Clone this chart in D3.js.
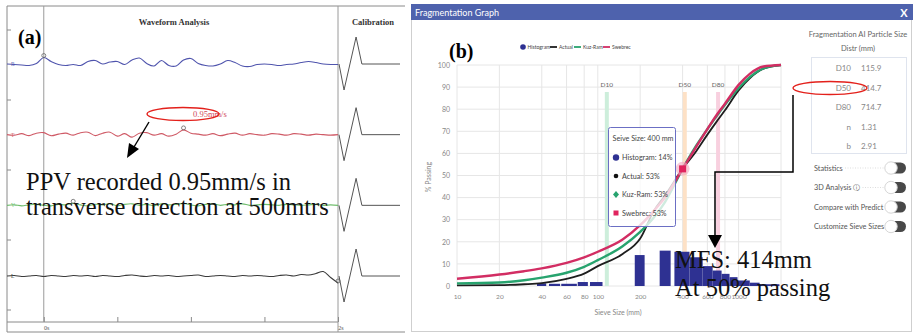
<!DOCTYPE html>
<html>
<head>
<meta charset="utf-8">
<script src="https://cdn.jsdelivr.net/npm/d3@7"></script>
<style>
  body { margin: 0; background: #fff; }
  svg { display: block; }
</style>
</head>
<body>
<div id="chart"></div>
<script>
// ---------- panel (a): waveform traces, mm/s, one sample every 0.05 s from -0.25 s
const channels = ["R", "T", "V", "L"];
const radial = [0, -0.1, -0.2, -0.3, 0.1, 1.3, 0.5, -0.1, -0.3, -0.1, -0.3, 0.5, 0.7, 0, 0.4, 0.5, -0.1, 0.8, 1.2, 0.1, -0.4, 0.7, -0.3, -0.4, 0.8, 1.1, 0.1, -0.3, -0.4, 0, 0.7, 0.3, -0.4, -0.5, -0.1, 0, -0.1, -0.3, -0.1, 0, 0.3, 0.5, 0.3, 0, -0.1, -0.1];
const transverse = [0, -0.1, 0.2, -0.2, 0.3, 0.4, -0.2, 0.1, 0.3, -0.1, 0.4, 0.5, -0.2, 0.3, 0.5, -0.3, 0.2, -0.5, 0.3, 0.4, -0.1, 0.2, -0.3, 0.1, 0.95, 0.3, 0.1, -0.1, 0.2, -0.2, 0.1, 0.3, -0.1, 0.2, 0, -0.1, 0.2, 0.1, -0.1, 0.2, 0.1, -0.1, 0.1, 0, -0.1, 0];
const vertical = [0, 0.1, -0.1, 0.1, 0.2, 0, -0.1, 0.2, 0.1, 0.4, 0.1, -0.1, 0.2, 0.1, 0.3, -0.1, 0.2, 0.3, 0, 0.2, -0.1, 0.3, 0.1, 0.2, 0.4, 0.1, -0.1, 0.2, 0.3, 0, 0.2, 0.1, 0.3, 0, 0.1, 0.2, 0.1, 0, 0.2, 0.1, 0, 0.1, 0.2, 0, 0.1, 0];
const longitudinal = [0, 0.1, -0.1, 0, 0.1, -0.1, 0.1, 0, -0.1, 0.1, 0, 0.1, -0.1, 0.1, 0, -0.1, 0.1, 0.2, 0, -0.1, 0.1, 0, 0.1, -0.1, 0, 0.1, 0.2, -0.1, 0, 0.1, 0, -0.1, 0.1, 0, 0.1, 0, -0.1, 0.1, 0.2, 0, 0.3, 0.2, 0.5, 0.9, -0.3, -1.4];
const peakIndex = [5, 24, 9, 45];
const calibTimes = [0, 0.033, 0.112, 0.15, 0.4];
const calibValues = [0, -5.2, 5.4, 0, 0];
const timeTicks = [0, 0.5, 1, 1.5, 2];
const timeLabels = ["0s", "", "", "", "2s"];

// ---------- panel (b): fragmentation curves, % passing per sieve size (mm)
const sieveSizes = [10, 20, 30, 40, 60, 80, 100, 150, 200, 250, 300, 400, 500, 600, 700, 800, 1000, 1200, 1500, 2000];
const actual = [0.3, 0.4, 0.8, 1.3, 3.2, 5.6, 9, 14.5, 21.5, 34, 41, 53, 61, 68.5, 74.5, 79.5, 88.5, 94, 98.3, 100];
const kuzRam = [1.2, 1.6, 2.6, 3.8, 6, 8.7, 11.7, 18, 24.5, 31, 38, 53, 63.5, 71, 77, 82, 89.5, 94.5, 98.5, 100];
const swebrec = [3.3, 5.2, 6.7, 8, 10.5, 13, 15.5, 21, 27.5, 34, 40, 53, 63, 71, 77.5, 82.5, 91, 96, 99.3, 100];
const histLow = [37, 45, 55, 72, 88, 183, 275, 350, 448, 555, 654, 757, 862, 982, 1200, 1410];
const histHigh = [43, 54, 71, 85, 108, 215, 329, 448, 555, 654, 757, 862, 982, 1200, 1410, 1950];
const histPct = [1.2, 1, 1, 1.8, 1.8, 14, 16, 15.5, 13, 9, 7, 5.5, 4, 2.5, 1.5, 0.8];
const sieveTicks = [10, 20, 40, 60, 80, 100, 200, 400, 600, 800, 1000];
const sieveGrid = [10, 20, 40, 60, 80, 100, 200, 400, 600, 800, 1000, 2000];
const passingTicks = [0, 10, 20, 30, 40, 50, 60, 70, 80, 90, 100];
const dNames = ["D10", "D50", "D80"];
const dSizes = [115.9, 414.7, 714.7];
const dColors = ["#cdeedb", "#fde1c6", "#f8d0df"];
const statNames = ["D10", "D50", "D80", "n", "b"];
const statValues = ["115.9", "414.7", "714.7", "1.31", "2.91"];
const toggleNames = ["Statistics", "3D Analysis \u24D8", "Compare with Predict", "Customize Sieve Sizes"];
const tipSize = 400;
const tipLabels = ["Histogram: 14%", "Actual: 53%", "Kuz-Ram: 53%", "Swebrec: 53%"];

const W = 913, H = 334;
const serif = "'Liberation Serif', 'Times New Roman', serif";
const sans = "Lato, 'Open Sans', sans-serif";

const svg = d3.select("#chart").append("svg")
  .attr("width", W)
  .attr("height", H);

// ===================== panel (a) =====================
const a = svg.append("g");
const t = d3.scaleLinear().domain([-0.25, 2]).range([7, 338]);
const chan = d3.scalePoint().domain(channels).range([64, 276]);
const amp = d3.scaleLinear().domain([-7, 7]).range([35, -35]);
const cal = d3.scaleLinear().domain([0, 0.4]).range([339, 400]);

// frame
a.append("path")
  .attr("d", "M7,6H405M7,6V332H405M7,322H338")
  .attr("fill", "none").attr("stroke", "#8a8a8a").attr("stroke-width", 1);
a.append("line").attr("x1", t(0)).attr("x2", t(0)).attr("y1", 6).attr("y2", 322)
  .attr("stroke", "#9a9a9a");
a.append("line").attr("x1", t(2)).attr("x2", t(2)).attr("y1", 6).attr("y2", 332)
  .attr("stroke", "#9a9a9a");
a.selectAll(".lt").data([30, 100, 170, 240, 310]).enter().append("line")
  .attr("x1", 7).attr("x2", 11).attr("y1", d => d).attr("y2", d => d)
  .attr("stroke", "#8a8a8a");

// time axis
const tAxis = a.append("g").attr("transform", "translate(0,322)")
  .call(d3.axisTop(t).tickValues(timeTicks).tickSize(5).tickFormat(() => ""));
tAxis.select(".domain").remove();
tAxis.selectAll("line").attr("stroke", "#8a8a8a");
a.selectAll(".tl").data(timeTicks).enter().append("text")
  .attr("x", d => t(d) + 3).attr("y", 330)
  .attr("text-anchor", "middle")
  .attr("font-family", serif).attr("font-size", 6).attr("fill", "#555")
  .text((d, i) => timeLabels[i]);

a.append("text").attr("x", 174).attr("y", 25).attr("text-anchor", "middle")
  .attr("font-family", serif).attr("font-weight", "bold").attr("font-size", 8.5)
  .attr("fill", "#333").text("Waveform Analysis");
a.append("text").attr("x", 373).attr("y", 25).attr("text-anchor", "middle")
  .attr("font-family", serif).attr("font-weight", "bold").attr("font-size", 8.5)
  .attr("fill", "#333").text("Calibration");

// traces
const traces = [radial, transverse, vertical, longitudinal];
const traceColors = ["#4f54ad", "#cf5a66", "#6fbd6c", "#3a3a3a"];
traces.forEach((vals, c) => {
  const base = chan(channels[c]);
  const line = d3.line()
    .x((d, i) => t(-0.25 + i * 0.05))
    .y(d => base + amp(d))
    .curve(d3.curveCatmullRom);
  a.append("path").datum(vals)
    .attr("fill", "none").attr("stroke", traceColors[c]).attr("stroke-width", 1.1)
    .attr("d", line);
  const pi = peakIndex[c];
  a.append("circle")
    .attr("cx", t(-0.25 + pi * 0.05)).attr("cy", base + amp(vals[pi]) - 2)
    .attr("r", 2).attr("fill", "none").attr("stroke", "#666").attr("stroke-width", 0.8);
  a.append("text").attr("x", 11).attr("y", base + 2)
    .attr("font-family", serif).attr("font-size", 5.5).attr("fill", traceColors[c])
    .text(channels[c]);
  // calibration pulse
  const cline = d3.line()
    .x((d, i) => cal(calibTimes[i]))
    .y(d => base + amp(d));
  a.append("path").datum(calibValues)
    .attr("fill", "none").attr("stroke", "#555").attr("stroke-width", 1)
    .attr("d", cline);
});

// annotation (a)
a.append("text").attr("x", 18).attr("y", 44)
  .attr("font-family", serif).attr("font-weight", "bold").attr("font-size", 20)
  .text("(a)");
a.append("text").attr("x", 193).attr("y", 117)
  .attr("font-family", serif).attr("font-size", 8.5).attr("fill", "#d04a5a")
  .text("0.95mm/s");
a.append("ellipse").attr("cx", 183).attr("cy", 114).attr("rx", 36).attr("ry", 6.5)
  .attr("fill", "none").attr("stroke", "#e3201b").attr("stroke-width", 1.4);
a.append("line").attr("x1", 149).attr("y1", 122).attr("x2", 134).attr("y2", 147)
  .attr("stroke", "#000").attr("stroke-width", 1.4);
a.append("path").attr("d", "M127,158L129,143L139,149Z").attr("fill", "#000");
a.append("text").attr("x", 26).attr("y", 190)
  .attr("font-family", serif).attr("font-size", 24.5).attr("fill", "#111")
  .text("PPV recorded 0.95mm/s in");
a.append("text").attr("x", 26).attr("y", 215)
  .attr("font-family", serif).attr("font-size", 24.5).attr("fill", "#111")
  .text("transverse direction at 500mtrs");

// ===================== panel (b) =====================
const b = svg.append("g");
b.append("rect").attr("x", 411.5).attr("y", 4.5).attr("width", 500).attr("height", 327)
  .attr("fill", "#fff").attr("stroke", "#cfcfcf");
b.append("rect").attr("x", 411).attr("y", 4).attr("width", 502).attr("height", 16)
  .attr("fill", "#4e62ad");
b.append("text").attr("x", 415).attr("y", 16)
  .attr("font-family", sans).attr("font-size", 9).attr("fill", "#fff")
  .text("Fragmentation Graph");
b.append("text").attr("x", 904).attr("y", 17).attr("text-anchor", "middle")
  .attr("font-family", sans).attr("font-size", 11).attr("font-weight", "bold").attr("fill", "#fff")
  .text("X");

const x = d3.scaleLog().domain([10, 2000]).range([457, 781]);
const y = d3.scaleLinear().domain([0, 100]).range([286, 65]);

// grid
b.selectAll(".hg").data(passingTicks).enter().append("line")
  .attr("x1", x(10)).attr("x2", x(2000)).attr("y1", d => y(d)).attr("y2", d => y(d))
  .attr("stroke", "#e6e6e6");
b.selectAll(".vg").data(sieveGrid).enter().append("line")
  .attr("x1", d => x(d)).attr("x2", d => x(d)).attr("y1", y(100)).attr("y2", y(0))
  .attr("stroke", "#e6e6e6");

// axes
const yAxis = b.append("g").attr("transform", "translate(" + (x(10) - 4) + ",0)")
  .call(d3.axisLeft(y).tickValues(passingTicks).tickSize(0));
yAxis.select(".domain").remove();
yAxis.selectAll("text").attr("font-family", sans).attr("font-size", 7).attr("fill", "#888");
const xAxis = b.append("g").attr("transform", "translate(0," + (y(0) + 5) + ")")
  .call(d3.axisBottom(x).tickValues(sieveTicks).tickFormat(d3.format("d")).tickSize(0));
xAxis.select(".domain").remove();
xAxis.selectAll("text").attr("font-family", sans).attr("font-size", 6.5).attr("fill", "#888");
b.append("text").attr("transform", "translate(431,177)rotate(-90)")
  .attr("text-anchor", "middle").attr("font-family", sans).attr("font-size", 7)
  .attr("fill", "#888").text("% Passing");
b.append("text").attr("x", 618).attr("y", 315).attr("text-anchor", "middle")
  .attr("font-family", sans).attr("font-size", 7).attr("fill", "#888")
  .text("Sieve Size (mm)");

// D10 / D50 / D80 bands
dSizes.forEach((s, i) => {
  b.append("rect").attr("x", x(s) - 2).attr("width", 4)
    .attr("y", 92).attr("height", y(0) - 92)
    .attr("fill", dColors[i]);
  b.append("text").attr("x", x(s)).attr("y", 87).attr("text-anchor", "middle")
    .attr("font-family", sans).attr("font-size", 6.5).attr("fill", "#666")
    .text(dNames[i]);
});

// histogram
b.selectAll(".bar").data(histPct).enter().append("rect")
  .attr("x", (d, i) => x(histLow[i]))
  .attr("width", (d, i) => x(histHigh[i]) - x(histLow[i]))
  .attr("y", d => y(d))
  .attr("height", d => y(0) - y(d))
  .attr("fill", "#2e3192");

// curves
const curve = d3.line()
  .x((d, i) => x(sieveSizes[i]))
  .y(d => y(d))
  .curve(d3.curveMonotoneX);
[[actual, "#1e1e1e", 1.8], [kuzRam, "#27a36e", 2.4], [swebrec, "#d22d63", 2.4]].forEach(s => {
  b.append("path").datum(s[0])
    .attr("fill", "none").attr("stroke", s[1]).attr("stroke-width", s[2])
    .attr("d", curve);
});

// legend
const lg = b.append("g").attr("font-family", sans).attr("font-size", 5).attr("fill", "#444");
lg.append("circle").attr("cx", 523).attr("cy", 47).attr("r", 2.8).attr("fill", "#2e3192");
lg.append("text").attr("x", 527.5).attr("y", 48.8).text("Histogram");
[["Actual", "#1e1e1e", 550], ["Kuz-Ram", "#27a36e", 574], ["Swebrec", "#d22d63", 603]].forEach(l => {
  lg.append("line").attr("x1", l[2]).attr("x2", l[2] + 7).attr("y1", 47).attr("y2", 47)
    .attr("stroke", l[1]).attr("stroke-width", 1.8);
  lg.append("text").attr("x", l[2] + 9).attr("y", 48.8).text(l[0]);
});

// tooltip + hovered point
const tipIdx = sieveSizes.indexOf(tipSize);
b.append("circle").attr("cx", x(tipSize)).attr("cy", y(swebrec[tipIdx])).attr("r", 7)
  .attr("fill", "#f2a7bf").attr("opacity", 0.6);
b.append("rect").attr("x", x(tipSize) - 3.5).attr("y", y(swebrec[tipIdx]) - 3.5)
  .attr("width", 7).attr("height", 7).attr("fill", "#e0245e");
const tip = b.append("g").attr("font-family", sans).attr("font-size", 7.2).attr("fill", "#444");
tip.append("rect").attr("x", 608.5).attr("y", 127.5).attr("width", 67).attr("height", 99)
  .attr("rx", 2).attr("fill", "#fff").attr("fill-opacity", 0.78)
  .attr("stroke", "#6b6fc4");
tip.append("text").attr("x", 612.5).attr("y", 141).text("Seive Size: " + tipSize + " mm");
tipLabels.forEach((l, i) => {
  tip.append("text").attr("x", 622).attr("y", 160 + i * 18.5).text(l);
});
tip.append("circle").attr("cx", 616).attr("cy", 157.5).attr("r", 3.2).attr("fill", "#2e3192");
tip.append("circle").attr("cx", 616).attr("cy", 176).attr("r", 2.3).attr("fill", "#111");
tip.append("path").attr("d", "M616,191L619,194.5L616,198L613,194.5Z").attr("fill", "#27a36e");
tip.append("rect").attr("x", 613.5).attr("y", 210.5).attr("width", 5).attr("height", 5).attr("fill", "#e0245e");

// side panel
const side = b.append("g").attr("font-family", sans).attr("fill", "#666");
side.append("text").attr("x", 858).attr("y", 37).attr("text-anchor", "middle")
  .attr("font-size", 7.5).text("Fragmentation AI Particle Size");
side.append("text").attr("x", 858).attr("y", 51).attr("text-anchor", "middle")
  .attr("font-size", 7.5).text("Distr (mm)");
side.append("rect").attr("x", 811.5).attr("y", 57.5).attr("width", 95).attr("height", 96)
  .attr("fill", "none").attr("stroke", "#dfe4ee");
statNames.forEach((n, i) => {
  side.append("text").attr("x", 851).attr("y", 71 + i * 19.5).attr("text-anchor", "end")
    .attr("font-size", 8).attr("fill", "#888").text(n);
  side.append("text").attr("x", 861).attr("y", 71 + i * 19.5)
    .attr("font-size", 8).attr("fill", "#888").text(statValues[i]);
});
toggleNames.forEach((n, i) => {
  const ty = 168 + i * 19.5;
  side.append("line").attr("x1", 840).attr("x2", 884).attr("y1", ty).attr("y2", ty)
    .attr("stroke", "#ddd").attr("stroke-dasharray", "1,1.5");
  side.append("text").attr("x", 814).attr("y", ty + 2.5).attr("font-size", 7.3)
    .attr("fill", "#555").text(n)
    .attr("paint-order", "stroke").attr("stroke", "#fff").attr("stroke-width", 3);
  side.append("rect").attr("x", 886).attr("y", ty - 5.5).attr("width", 20).attr("height", 11)
    .attr("rx", 5.5).attr("fill", "#484848");
  side.append("circle").attr("cx", 891).attr("cy", ty).attr("r", 6.2)
    .attr("fill", "#fff").attr("stroke", "#d6d6d6");
});

// annotation (b)
b.append("text").attr("x", 449).attr("y", 58)
  .attr("font-family", serif).attr("font-weight", "bold").attr("font-size", 20)
  .text("(b)");
b.append("ellipse").attr("cx", 830).attr("cy", 88).attr("rx", 37).attr("ry", 6.5)
  .attr("fill", "none").attr("stroke", "#e3201b").attr("stroke-width", 1.4);
b.append("path").attr("d", "M793,95V172H715V236")
  .attr("fill", "none").attr("stroke", "#000").attr("stroke-width", 1.5);
b.append("path").attr("d", "M708,235H722L715,248Z").attr("fill", "#000");
b.append("text").attr("x", 675).attr("y", 268)
  .attr("font-family", serif).attr("font-size", 24.5).attr("fill", "#111")
  .text("MFS: 414mm");
b.append("text").attr("x", 675).attr("y", 296)
  .attr("font-family", serif).attr("font-size", 24.5).attr("fill", "#111")
  .text("At 50% passing");
</script>
</body>
</html>
